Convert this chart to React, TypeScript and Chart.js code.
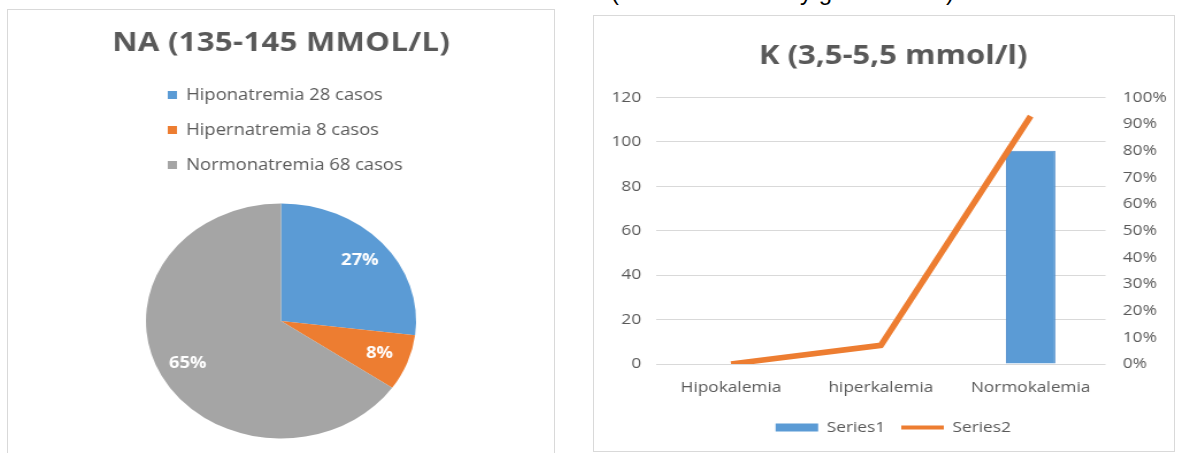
import React, { useEffect, useRef } from "react";
import { Chart, registerables } from "chart.js";

Chart.register(...registerables);

const FONT = "'Open Sans', sans-serif";
const TEXT_COLOR = "#595959";
Chart.defaults.font.family = FONT;
Chart.defaults.color = TEXT_COLOR;

// ---- Left chart data (pie) ----
const naTitle = "NA (135-145 MMOL/L)";
const naLabels = ["Hiponatremia 28 casos", "Hipernatremia 8 casos", "Normonatremia 68 casos"];
const naValues = [28, 8, 68];
const naColors = ["#5B9BD5", "#ED7D31", "#A5A5A5"];

// ---- Right chart data (bar + line) ----
const kTitle = "K (3,5-5,5 mmol/l)";
const kCategories = ["Hipokalemia", "hiperkalemia", "Normokalemia"];
const kSeries1 = [0, 0, 96];
const kSeries2 = [0, 0.07, 0.93];
const kSeriesNames = ["Series1", "Series2"];
const kLeftMax = 120;
const kLeftStep = 20;
const kRightMax = 1;
const kRightStep = 0.1;

const SX_LEFT = 546 / 475;
const SX_RIGHT = 580 / 504;

// Excel-style spaced title for the pie chart
const spacedTitlePlugin = {
  id: "spacedTitle",
  afterDraw(chart: any) {
    const ctx = chart.ctx;
    const area = chart.chartArea;
    const spacing = 0.3;
    ctx.save();
    ctx.font = `bold 27px ${FONT}`;
    (ctx as any).letterSpacing = `${spacing}px`;
    ctx.fillStyle = TEXT_COLOR;
    ctx.textAlign = "center";
    ctx.textBaseline = "middle";
    ctx.fillText(naTitle, (area.left + area.right) / 2 + spacing / 2, 33);
    ctx.restore();
  },
};

const pieLabelPlugin = {
  id: "pieLabels",
  afterDatasetsDraw(chart: any) {
    const meta = chart.getDatasetMeta(0);
    const data = chart.data.datasets[0].data as number[];
    const total = data.reduce((a: number, b: number) => a + b, 0);
    const ctx = chart.ctx;
    ctx.save();
    ctx.font = `bold 16px ${FONT}`;
    ctx.fillStyle = "#ffffff";
    ctx.textAlign = "center";
    ctx.textBaseline = "middle";
    meta.data.forEach((arc: any, i: number) => {
      const p = arc.getProps(["x", "y", "startAngle", "endAngle", "outerRadius"], true);
      const mid = (p.startAngle + p.endAngle) / 2;
      const r = p.outerRadius * 0.78;
      ctx.fillText(
        Math.round((data[i] / total) * 100) + "%",
        p.x + Math.cos(mid) * r,
        p.y + Math.sin(mid) * r
      );
    });
    ctx.restore();
  },
};

function PieChart() {
  const ref = useRef<HTMLCanvasElement | null>(null);
  useEffect(() => {
    if (!ref.current) return;
    const chart = new Chart(ref.current, {
      type: "pie",
      data: {
        labels: naLabels,
        datasets: [
          {
            data: naValues,
            backgroundColor: naColors,
            borderWidth: 0,
            hoverOffset: 0,
          },
        ],
      },
      options: {
        responsive: false,
        animation: false,
        layout: { padding: { left: 120, right: 120, top: 58, bottom: 11 } },
        plugins: {
          title: { display: false },
          legend: {
            position: "top",
            align: "start",
            labels: {
              boxWidth: 8,
              boxHeight: 8,
              padding: 19,
              color: TEXT_COLOR,
              font: { size: 16, family: FONT },
            },
          },
          tooltip: { enabled: false },
        },
      },
      plugins: [pieLabelPlugin, spacedTitlePlugin],
    } as any);
    return () => chart.destroy();
  }, []);
  return (
    <canvas
      ref={ref}
      width={475}
      height={460}
      style={{ transform: `scaleX(${SX_LEFT})`, transformOrigin: "0 0", display: "block" }}
    />
  );
}

function ComboChart() {
  const ref = useRef<HTMLCanvasElement | null>(null);
  useEffect(() => {
    if (!ref.current) return;
    const tickFont = { size: 15, family: FONT };
    const chart = new Chart(ref.current, {
      type: "bar",
      data: {
        labels: kCategories,
        datasets: [
          {
            type: "bar",
            label: kSeriesNames[0],
            data: kSeries1,
            backgroundColor: "#5B9BD5",
            borderColor: "#4F8DCB",
            borderWidth: 1,
            yAxisID: "y",
            order: 2,
            barPercentage: 0.33,
            categoryPercentage: 1,
          },
          {
            type: "line",
            label: kSeriesNames[1],
            data: kSeries2,
            borderColor: "#ED7D31",
            backgroundColor: "#ED7D31",
            borderWidth: 5.5,
            pointRadius: 0,
            tension: 0,
            yAxisID: "y1",
            order: 1,
          },
        ],
      },
      options: {
        responsive: false,
        animation: false,
        layout: { padding: { left: 16, right: 0, top: 0, bottom: 6 } },
        scales: {
          x: {
            grid: { display: false, drawTicks: false },
            border: { display: false },
            ticks: { color: TEXT_COLOR, font: tickFont, padding: 15 },
            afterFit(s: any) {
              s.height = 42;
            },
          },
          y: {
            position: "left",
            min: 0,
            max: kLeftMax,
            ticks: { stepSize: kLeftStep, color: TEXT_COLOR, font: tickFont, padding: 13 },
            grid: { color: "#D9D9D9", drawTicks: false },
            border: { display: false },
            afterFit(s: any) {
              s.width = 38;
            },
          },
          y1: {
            position: "right",
            min: 0,
            max: kRightMax,
            ticks: {
              stepSize: kRightStep,
              color: TEXT_COLOR,
              font: tickFont,
              padding: 15,
              callback: (v: any) => Math.round(Number(v) * 100) + "%",
            },
            grid: { display: false, drawTicks: false },
            border: { display: false },
            afterFit(s: any) {
              s.width = 59.5;
            },
          },
        },
        plugins: {
          title: {
            display: true,
            text: kTitle,
            color: TEXT_COLOR,
            font: { size: 27, weight: "bold", family: FONT },
            padding: { top: 24.3, bottom: 24.8 },
          },
          legend: {
            position: "bottom",
            labels: {
              usePointStyle: true,
              pointStyleWidth: 37,
              boxHeight: 8,
              padding: 14,
              color: TEXT_COLOR,
              font: tickFont,
              sort: (a: any, b: any) => a.datasetIndex - b.datasetIndex,
              generateLabels: (c: any) => {
                const items = (Chart.defaults.plugins.legend.labels as any).generateLabels(c);
                return items.map((it: any) =>
                  it.datasetIndex === 0
                    ? { ...it, pointStyle: "rect", fillStyle: "#5B9BD5", strokeStyle: "#5B9BD5", lineWidth: 0 }
                    : { ...it, pointStyle: "line", fillStyle: "#ED7D31", strokeStyle: "#ED7D31", lineWidth: 4 }
                );
              },
            },
          },
          tooltip: { enabled: false },
        },
      },
    } as any);
    return () => chart.destroy();
  }, []);
  return (
    <canvas
      ref={ref}
      width={504}
      height={435}
      style={{ transform: `scaleX(${SX_RIGHT})`, transformOrigin: "0 0", display: "block" }}
    />
  );
}

const topTextStyle: React.CSSProperties = {
  position: "absolute",
  top: -20,
  fontFamily: "'Liberation Sans', Arial, sans-serif",
  fontSize: 24,
  lineHeight: "24px",
  color: "#000",
  whiteSpace: "pre",
};

export default function App() {
  return (
    <div
      style={{
        position: "fixed",
        left: 0,
        top: 0,
        width: 1177,
        height: 453,
        overflow: "hidden",
        background: "#fff",
      }}
    >
      <span style={{ ...topTextStyle, left: 611 }}>(</span>
      <span style={{ ...topTextStyle, left: 800 }}>y g</span>
      <span style={{ ...topTextStyle, left: 946 }}>)</span>
      <div
        style={{
          position: "absolute",
          left: 7,
          top: 9,
          width: 546,
          height: 470,
          border: "1px solid #D9D9D9",
          background: "#fff",
          overflow: "hidden",
        }}
      >
        <PieChart />
      </div>
      <div
        style={{
          position: "absolute",
          left: 593,
          top: 15,
          width: 580,
          height: 435,
          border: "1px solid #D9D9D9",
          background: "#fff",
          overflow: "hidden",
        }}
      >
        <ComboChart />
      </div>
    </div>
  );
}
